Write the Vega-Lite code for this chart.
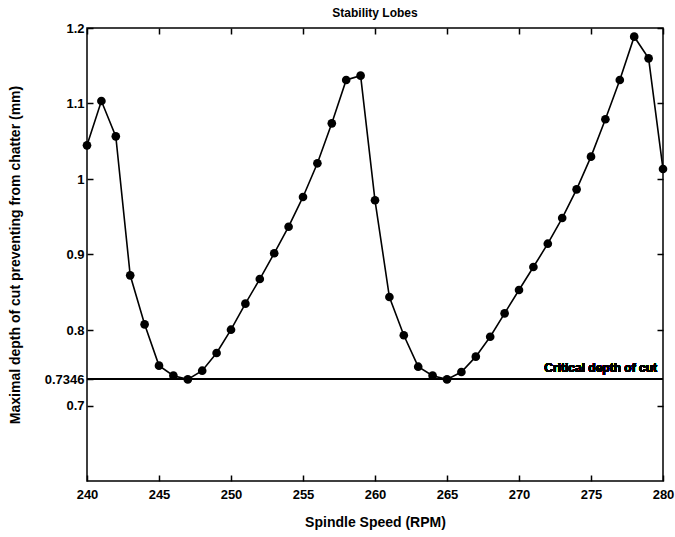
{
  "$schema": "https://vega.github.io/schema/vega-lite/v6.json",
  "width": 576,
  "height": 453,
  "autosize": {"type": "none"},
  "padding": {"left": 87, "top": 28, "right": 12, "bottom": 56},
  "background": "white",
  "title": {"text": "Stability Lobes", "fontSize": 12, "fontWeight": "bold", "font": "Liberation Sans", "color": "black", "offset": 2},
  "config": {
    "view": {"stroke": "black", "strokeWidth": 1.5},
    "axis": {"font": "Liberation Sans", "labelFont": "Liberation Sans", "titleFont": "Liberation Sans", "labelFontSize": 13, "labelFontWeight": "bold", "labelColor": "black", "titleFontSize": 14, "titleFontWeight": "bold", "titleColor": "black", "grid": false, "domain": false, "tickColor": "black", "tickWidth": 1.5, "tickSize": -6, "labelFlush": false}
  },
  "resolve": {"axis": {"x": "independent", "y": "independent"}},
  "data": {"values": [
    {"rpm": 240, "depth": 1.0446},
    {"rpm": 241, "depth": 1.1033},
    {"rpm": 242, "depth": 1.0565},
    {"rpm": 243, "depth": 0.8724},
    {"rpm": 244, "depth": 0.8075},
    {"rpm": 245, "depth": 0.7528},
    {"rpm": 246, "depth": 0.7395},
    {"rpm": 247, "depth": 0.7346},
    {"rpm": 248, "depth": 0.7461},
    {"rpm": 249, "depth": 0.7695},
    {"rpm": 250, "depth": 0.8004},
    {"rpm": 251, "depth": 0.8349},
    {"rpm": 252, "depth": 0.8675},
    {"rpm": 253, "depth": 0.9016},
    {"rpm": 254, "depth": 0.9368},
    {"rpm": 255, "depth": 0.9762},
    {"rpm": 256, "depth": 1.0208},
    {"rpm": 257, "depth": 1.0737},
    {"rpm": 258, "depth": 1.1311},
    {"rpm": 259, "depth": 1.1369},
    {"rpm": 260, "depth": 0.9718},
    {"rpm": 261, "depth": 0.8437},
    {"rpm": 262, "depth": 0.7930},
    {"rpm": 263, "depth": 0.7514},
    {"rpm": 264, "depth": 0.7395},
    {"rpm": 265, "depth": 0.7346},
    {"rpm": 266, "depth": 0.7444},
    {"rpm": 267, "depth": 0.7647},
    {"rpm": 268, "depth": 0.7911},
    {"rpm": 269, "depth": 0.8221},
    {"rpm": 270, "depth": 0.8530},
    {"rpm": 271, "depth": 0.8834},
    {"rpm": 272, "depth": 0.9143},
    {"rpm": 273, "depth": 0.9483},
    {"rpm": 274, "depth": 0.9863},
    {"rpm": 275, "depth": 1.0296},
    {"rpm": 276, "depth": 1.0791},
    {"rpm": 277, "depth": 1.1311},
    {"rpm": 278, "depth": 1.1885},
    {"rpm": 279, "depth": 1.1598},
    {"rpm": 280, "depth": 1.0132}
  ]},
  "layer": [
    {
      "mark": {"type": "line", "color": "black", "strokeWidth": 1.6},
      "encoding": {
        "x": {"field": "rpm", "type": "quantitative", "scale": {"domain": [240, 280], "nice": false, "zero": false},
              "axis": {"title": "Spindle Speed (RPM)", "values": [240, 245, 250, 255, 260, 265, 270, 275, 280], "labelPadding": 13, "titlePadding": 14, "labelFlush": false}},
        "y": {"field": "depth", "type": "quantitative", "scale": {"domain": [0.6, 1.2], "nice": false, "zero": false},
              "axis": {"title": "Maximal depth of cut preventing from chatter (mm)", "values": [0.7, 0.7346, 0.8, 0.9, 1, 1.1, 1.2], "labelExpr": "format(datum.value, '.5~g')", "labelPadding": 9, "titlePadding": 22, "labelFlush": false}}
      }
    },
    {
      "mark": {"type": "point", "filled": true, "color": "black", "size": 75, "opacity": 1},
      "encoding": {
        "x": {"field": "rpm", "type": "quantitative", "axis": {"orient": "top", "labels": false, "title": null, "values": [240, 245, 250, 255, 260, 265, 270, 275, 280]}},
        "y": {"field": "depth", "type": "quantitative", "axis": {"orient": "right", "labels": false, "title": null, "values": [0.7, 0.8, 0.9, 1, 1.1, 1.2]}}
      }
    },
    {
      "mark": {"type": "rule", "color": "black", "strokeWidth": 1.3},
      "encoding": {"y": {"datum": 0.7346, "axis": null}}
    },
    {
      "mark": {"type": "text", "text": "Critical depth of cut", "align": "right", "baseline": "bottom", "dx": -6, "dy": -4, "font": "Liberation Sans", "fontSize": 12, "fontWeight": "bold", "color": "black"},
      "encoding": {"x": {"datum": 280, "axis": null}, "y": {"datum": 0.7346, "axis": null}}
    }
  ]
}
